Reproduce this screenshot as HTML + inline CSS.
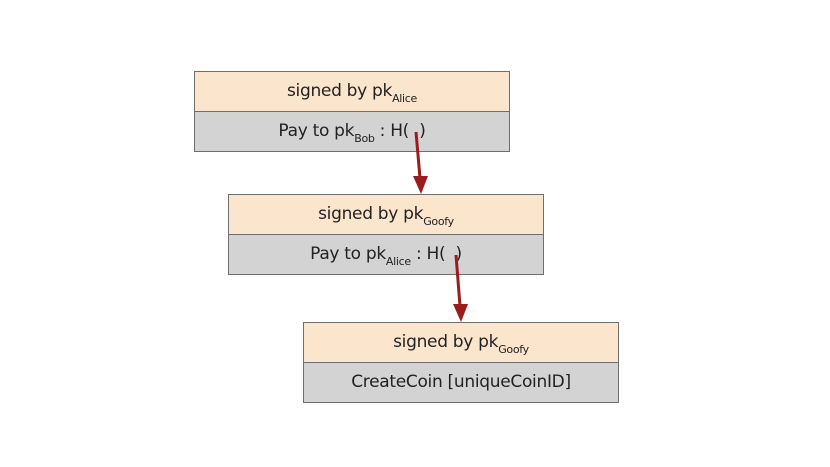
<!DOCTYPE html>
<html><head><style>
body{margin:0;width:830px;height:467px;background:#fff;position:relative;font-family:"DejaVu Sans","Liberation Sans",sans-serif;overflow:hidden}
.b{position:absolute;width:316px;height:81px;border:1.5px solid #6e6e6e;box-sizing:border-box}
.t,.u{height:50%;text-align:center;font-size:17px;color:#222;line-height:38px;letter-spacing:-0.3px}
.t{background:#fce5cd;border-bottom:1.5px solid #6e6e6e;box-sizing:border-box}
.u{background:#d3d3d3}
sub{font-size:11px;vertical-align:-6px;line-height:0}
</style></head><body>
<div class="b" style="left:194px;top:71px"><div class="t"><span>signed by pk<sub>Alice</sub></span></div><div class="u"><span>Pay to pk<sub>Bob</sub> : H(&nbsp;&nbsp;)</span></div></div>
<div class="b" style="left:228px;top:194px"><div class="t"><span>signed by pk<sub>Goofy</sub></span></div><div class="u"><span>Pay to pk<sub>Alice</sub> : H(&nbsp;&nbsp;)</span></div></div>
<div class="b" style="left:303px;top:322px"><div class="t"><span>signed by pk<sub>Goofy</sub></span></div><div class="u"><span>CreateCoin [uniqueCoinID]</span></div></div>
<svg width="830" height="467" style="position:absolute;left:0;top:0">
<g stroke="#9b1c1c" stroke-width="3" fill="#9b1c1c">
<line x1="416" y1="132" x2="420" y2="178"/>
<polygon points="413,176 428,176 421,194" stroke="none"/>
<line x1="456" y1="255" x2="460" y2="306"/>
<polygon points="453,304 468,304 461,322" stroke="none"/>
</g></svg>
</body></html>
